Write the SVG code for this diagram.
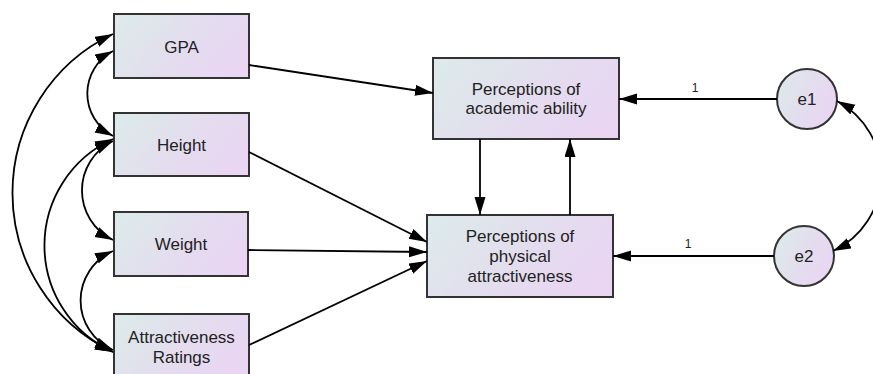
<svg xmlns="http://www.w3.org/2000/svg" width="873" height="374" viewBox="0 0 873 374">
  <defs>
    <linearGradient id="fill" x1="0" y1="0.3" x2="1" y2="0.7">
      <stop offset="0" stop-color="#dde9ea"/>
      <stop offset="0.55" stop-color="#e4dcef"/>
      <stop offset="1" stop-color="#ead5f3"/>
    </linearGradient>
    <marker id="arrow" markerUnits="userSpaceOnUse" markerWidth="19" markerHeight="12" refX="18" refY="5.5" orient="auto-start-reverse" viewBox="0 0 19 12">
      <path d="M0,0 L18,5.5 L0,11 Z" fill="#000"/>
    </marker>
    <style>
      .box { fill: url(#fill); stroke: #333; stroke-width: 2; }
      .lbl { font-family: "Liberation Sans", Arial, sans-serif; font-size: 17px; fill: #222; text-anchor: middle; }
      .num { font-family: "Liberation Sans", Arial, sans-serif; font-size: 12px; fill: #222; text-anchor: middle; }
      .path { fill: none; stroke: #000; stroke-width: 1.8; marker-end: url(#arrow); }
      .cov { fill: none; stroke: #000; stroke-width: 1.8; marker-start: url(#arrow); marker-end: url(#arrow); }
    </style>
  </defs>

  <!-- observed variables -->
  <g id="gpa">
    <rect class="box" x="114" y="14" width="135" height="64"/>
    <text class="lbl" x="181.5" y="53">GPA</text>
  </g>
  <g id="height">
    <rect class="box" x="114" y="113" width="135" height="63"/>
    <text class="lbl" x="181.5" y="151">Height</text>
  </g>
  <g id="weight">
    <rect class="box" x="114" y="212" width="134" height="64"/>
    <text class="lbl" x="181" y="250">Weight</text>
  </g>
  <g id="attractiveness-ratings">
    <rect class="box" x="114" y="314" width="135" height="65"/>
    <text class="lbl" x="181.5" y="342.5">Attractiveness</text>
    <text class="lbl" x="181.5" y="362.5">Ratings</text>
  </g>

  <!-- endogenous variables -->
  <g id="academic-ability">
    <rect class="box" x="433" y="58" width="186" height="81"/>
    <text class="lbl" x="526" y="95">Perceptions of</text>
    <text class="lbl" x="526" y="114">academic ability</text>
  </g>
  <g id="physical-attractiveness">
    <rect class="box" x="427" y="215" width="186" height="82"/>
    <text class="lbl" x="520" y="241.5">Perceptions of</text>
    <text class="lbl" x="520" y="261.5">physical</text>
    <text class="lbl" x="520" y="281.5">attractiveness</text>
  </g>

  <!-- error terms -->
  <g id="e1">
    <circle class="box" cx="807" cy="99" r="30"/>
    <text class="lbl" x="807" y="105">e1</text>
  </g>
  <g id="e2">
    <circle class="box" cx="804" cy="256" r="30"/>
    <text class="lbl" x="804" y="262">e2</text>
  </g>

  <!-- connectors -->
  <g id="connectors">
    <path class="path" d="M249,65 L433,93"/>
    <path class="path" d="M249,152 L427,242"/>
    <path class="path" d="M248,250 L427,252"/>
    <path class="path" d="M249,345 L427,261"/>
    <path class="path" d="M480,139 L480,215"/>
    <path class="path" d="M570,215 L570,139"/>
    <path class="path" d="M777,99 L619,99"/>
    <path class="path" d="M774,256 L613,256"/>

    <path class="cov" d="M113,34 A176,176 0 0 0 113,352"/>
    <path class="cov" d="M113,51 A48,48 0 0 0 113,136"/>
    <path class="cov" d="M113,141 A55,55 0 0 0 113,240"/>
    <path class="cov" d="M113,139 A117,117 0 0 0 113,352"/>
    <path class="cov" d="M113,251 A54,54 0 0 0 113,350"/>
    <path class="cov" d="M837,101 A84,84 0 0 1 833,251"/>

    <text class="num" x="695" y="92">1</text>
    <text class="num" x="688" y="248">1</text>
  </g>
</svg>
